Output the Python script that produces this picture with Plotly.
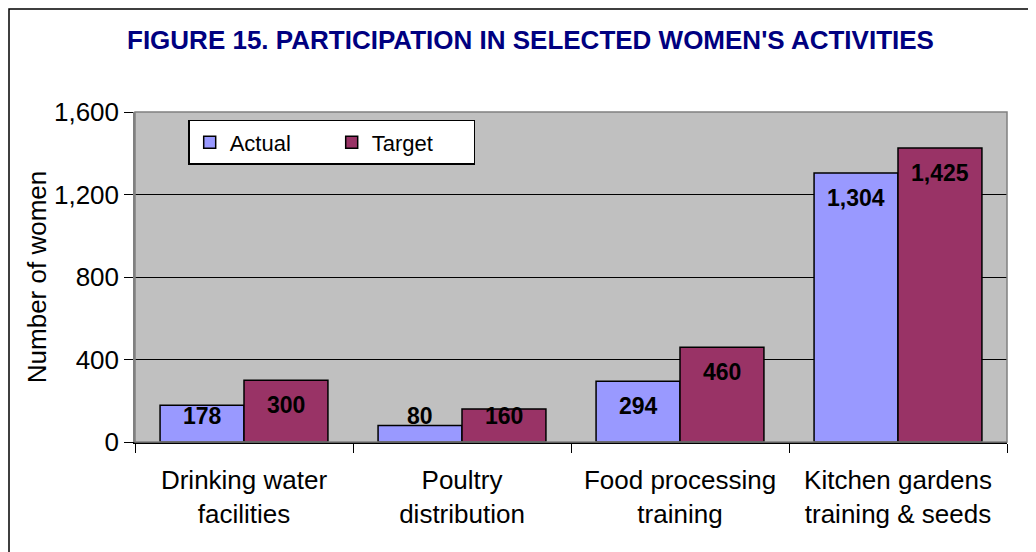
import plotly.graph_objects as go

categories = ["Drinking water<br>facilities", "Poultry<br>distribution",
              "Food processing<br>training", "Kitchen gardens<br>training & seeds"]
actual = [178, 80, 294, 1304]
target = [300, 160, 460, 1425]

W, H = 1036, 552
# page body adds an 8px offset, so margins are set 8px smaller on the left/top
L, R, T, B = 127, 37, 104, 118
PW, PH = W - L - R, H - T - B
font = "Liberation Sans, Arial, sans-serif"

fig = go.Figure()
fig.add_trace(go.Bar(x=categories, y=actual, name="Actual",
                     marker=dict(color="#9999FF", line=dict(color="black", width=1.5))))
fig.add_trace(go.Bar(x=categories, y=target, name="Target",
                     marker=dict(color="#993366", line=dict(color="black", width=1.5))))

# value labels, Excel style: just inside the bar top, kept above the axis
for vals, shift in ((actual, -42), (target, 42)):
    for c, v in zip(categories, vals):
        fig.add_annotation(x=c, y=max(v - 121, 126), xshift=shift, text=f"<b>{v:,}</b>",
                           showarrow=False, font=dict(family=font, size=23, color="black"))

fig.add_annotation(xref="paper", yref="paper", x=0.453, y=(PH + T - 32) / PH,
                   yanchor="middle", showarrow=False,
                   text="<b>FIGURE 15. PARTICIPATION IN SELECTED WOMEN'S ACTIVITIES</b>",
                   font=dict(family=font, size=26, color="#000080"))

# outer frame
fig.add_shape(type="rect", xref="paper", yref="paper", layer="above",
              x0=(1 - L) / PW, x1=1.2, y0=-0.5, y1=(PH + T - 1) / PH,
              line=dict(color="black", width=1.5))

fig.update_layout(
    width=W, height=H, margin=dict(l=L, r=R, t=T, b=B),
    paper_bgcolor="white", plot_bgcolor="#C0C0C0",
    barmode="group", bargap=0.23, bargroupgap=0,
    font=dict(family=font, size=26, color="black"),
    legend=dict(orientation="h", x=0.061, y=0.976, xanchor="left", yanchor="top",
                bgcolor="white", bordercolor="black", borderwidth=1.5,
                font=dict(size=22), entrywidth=97, itemwidth=30),
)
fig.update_xaxes(showline=True, linecolor="black", linewidth=1.5, mirror=False,
                 ticks="outside", tickson="boundaries", ticklen=9, tickcolor="black",
                 tickfont=dict(size=26), ticklabelstandoff=14)
fig.update_yaxes(range=[0, 1600], tickvals=[0, 400, 800, 1200, 1600], tickformat=",d",
                 showgrid=True, gridcolor="black", gridwidth=1.2, zeroline=False,
                 showline=True, linecolor="#808080", linewidth=1.5,
                 ticks="outside", ticklen=9, tickcolor="black", tickfont=dict(size=26),
                 title=dict(text="Number of women", font=dict(size=26), standoff=0))
# grey border top and right of plot area
fig.add_shape(type="rect", xref="paper", yref="paper", x0=0, x1=1, y0=0, y1=1,
              line=dict(color="#808080", width=1.5))

fig.write_html("out.html")
